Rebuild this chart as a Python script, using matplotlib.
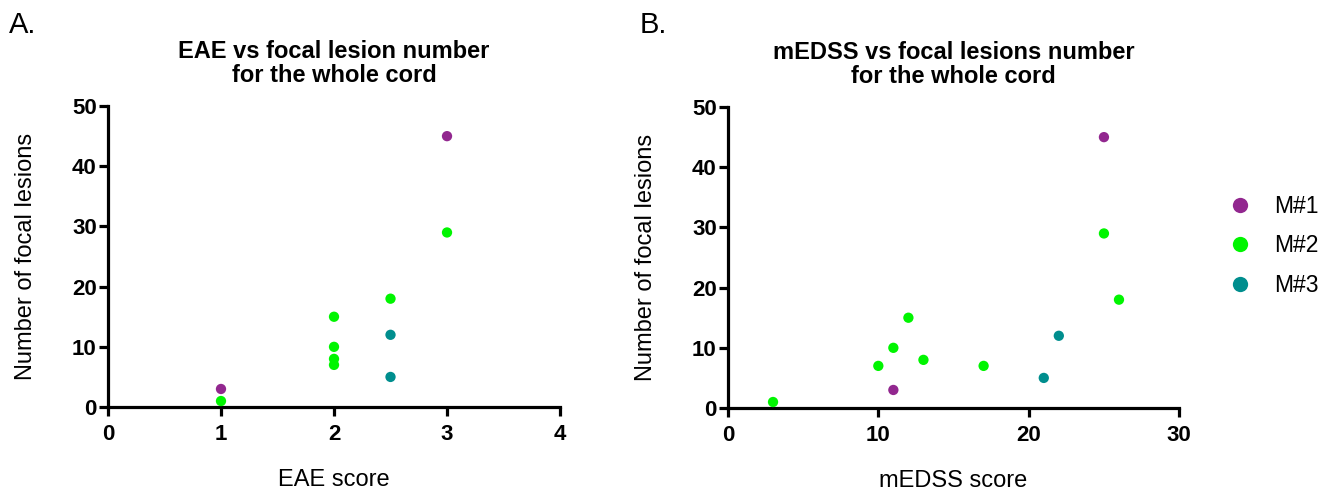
import matplotlib
matplotlib.use("Agg")
import matplotlib.pyplot as plt
from matplotlib.lines import Line2D

# Series colours
colors = {"M#1": "#92278f", "M#2": "#00f500", "M#3": "#008e8e"}

# Panel A: EAE score vs number of focal lesions
eae_m1_x = [1, 3]
eae_m1_y = [3, 45]
eae_m2_x = [1, 2, 2, 2, 2, 2.5, 3]
eae_m2_y = [1, 15, 10, 8, 7, 18, 29]
eae_m3_x = [2.5, 2.5]
eae_m3_y = [12, 5]

# Panel B: mEDSS score vs number of focal lesions
medss_m1_x = [11, 25]
medss_m1_y = [3, 45]
medss_m2_x = [3, 10, 11, 12, 13, 17, 25, 26]
medss_m2_y = [1, 7, 10, 15, 8, 7, 29, 18]
medss_m3_x = [21, 22]
medss_m3_y = [5, 12]

xticks_a = [0, 1, 2, 3, 4]
xticks_b = [0, 10, 20, 30]
yticks = [0, 10, 20, 30, 40, 50]

font = ["Liberation Sans", "DejaVu Sans"]

fig = plt.figure(figsize=(13.43, 4.91), dpi=100)
ax_a = fig.add_axes([0.0804, 0.171, 0.3366, 0.613])
ax_b = fig.add_axes([0.542, 0.169, 0.336, 0.613])


def style_axes(ax, xticks, xlim, title, xlabel):
    ax.set_xlim(*xlim)
    ax.set_ylim(0, 50)
    ax.set_xticks(xticks)
    ax.set_yticks(yticks)
    for side in ("top", "right"):
        ax.spines[side].set_visible(False)
    for side in ("left", "bottom"):
        ax.spines[side].set_linewidth(2.3)
    ax.tick_params(direction="out", length=6.5, width=2.3)
    ax.tick_params(axis="x", pad=6)
    ax.tick_params(axis="y", pad=1.5)
    for lab in ax.get_xticklabels() + ax.get_yticklabels():
        lab.set_fontfamily(font)
        lab.set_fontweight("bold")
        lab.set_fontsize(16)
    ax.set_title(title, fontfamily=font, fontweight="bold", fontsize=17,
                 pad=17, linespacing=1.1)
    ax.set_xlabel(xlabel, fontfamily=font, fontsize=17, labelpad=17)
    ax.set_ylabel("Number of focal lesions", fontfamily=font, fontsize=17,
                  labelpad=25)


def scatter_series(ax, series):
    for name, xs, ys in series:
        ax.scatter(xs, ys, s=55, color=colors[name], edgecolors="none",
                   clip_on=False, zorder=3)


scatter_series(ax_a, [("M#1", eae_m1_x, eae_m1_y),
                      ("M#2", eae_m2_x, eae_m2_y),
                      ("M#3", eae_m3_x, eae_m3_y)])
scatter_series(ax_b, [("M#1", medss_m1_x, medss_m1_y),
                      ("M#2", medss_m2_x, medss_m2_y),
                      ("M#3", medss_m3_x, medss_m3_y)])

style_axes(ax_a, xticks_a, (0, 4),
           "EAE vs focal lesion number\nfor the whole cord", "EAE score")
style_axes(ax_b, xticks_b, (0, 30),
           "mEDSS vs focal lesions number\nfor the whole cord", "mEDSS score")

fig.text(0.0067, 0.933, "A.", fontfamily=font, fontsize=21, va="baseline")
fig.text(0.4765, 0.933, "B.", fontfamily=font, fontsize=21, va="baseline")

handles = [Line2D([], [], marker="o", linestyle="none", markersize=11,
                  markerfacecolor=colors[n], markeredgecolor="none", label=n)
           for n in ("M#1", "M#2", "M#3")]
fig.legend(handles=handles, loc="center left", bbox_to_anchor=(0.8955, 0.499),
           frameon=False, prop={"family": font, "size": 16.5},
           handletextpad=0.71, labelspacing=0.72, handlelength=1.5)

fig.savefig("out.png", dpi=100)
